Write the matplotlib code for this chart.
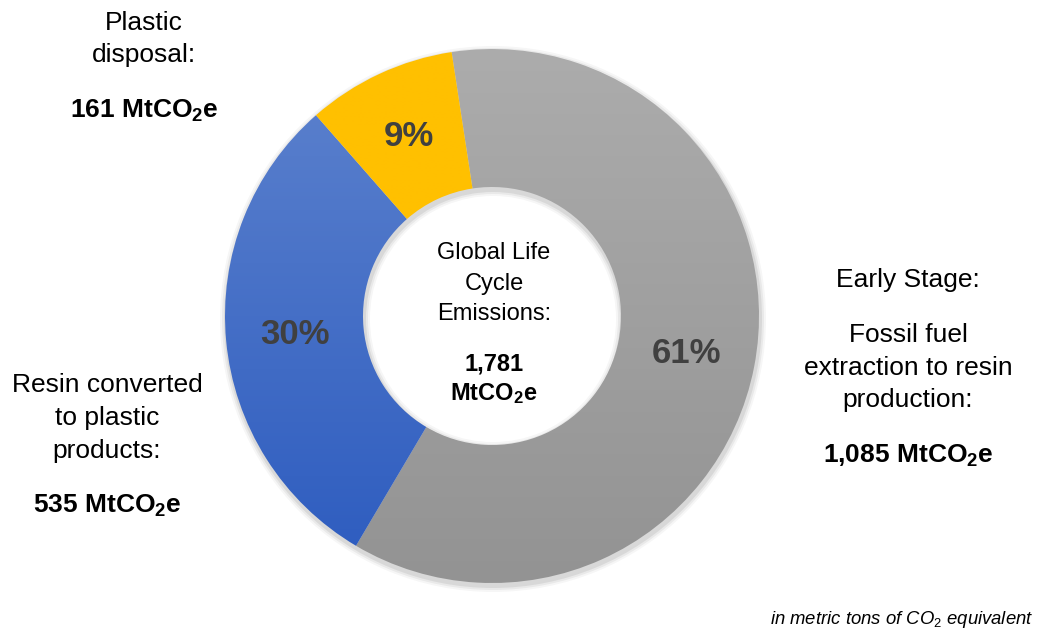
import matplotlib
matplotlib.use('Agg')
import matplotlib.pyplot as plt
import numpy as np
from matplotlib.colors import LinearSegmentedColormap
from matplotlib.patches import Wedge

plt.rcParams['font.family'] = ['Liberation Sans', 'DejaVu Sans']
plt.rcParams['mathtext.fontset'] = 'custom'
plt.rcParams['mathtext.rm'] = 'Liberation Sans'
plt.rcParams['mathtext.it'] = 'Liberation Sans:italic'
plt.rcParams['mathtext.bf'] = 'Liberation Sans:bold'

# ---- data ----
stages = ['Early Stage', 'Resin converted to plastic products', 'Plastic disposal']
emissions = [1085, 535, 161]          # MtCO2e
total_emissions = 1781
value_labels = ['1,085 MtCO$_\\mathbf{2}$e', '535 MtCO$_\\mathbf{2}$e', '161 MtCO$_\\mathbf{2}$e']

W, H = 1038, 630
fig = plt.figure(figsize=(W / 100, H / 100), dpi=100)
ax = fig.add_axes([0, 0, 1, 1])

def Y(y):
    return H - y

cx, cy = 492, Y(316)
R_out, R_in = 267, 129
width = R_out - R_in

# soft shadow
for dr, a in [(6, 0.035), (4, 0.05), (2, 0.07)]:
    ax.add_patch(Wedge((cx + 1, cy - 3), R_out + dr, 0, 360, width=width + 2 * dr,
                       facecolor='#000000', alpha=a, edgecolor='none', zorder=1))

wedges, texts, autotexts = ax.pie(
    emissions, radius=R_out, center=(cx, cy), startangle=98.7, counterclock=False,
    wedgeprops=dict(width=width, edgecolor='none', linewidth=0),
    autopct='%.0f%%', pctdistance=(R_out + R_in) / 2 / R_out,
    textprops=dict(fontsize=25, fontweight='bold', color='#404040'),
    frame=False)

grads = [('#ACACAC', '#939393'), ('#5E83CE', '#2C5BBF'), ('#FFC000', '#FFC000')]
for w, (top, bot) in zip(wedges, grads):
    w.set_facecolor('none')
    cmap = LinearSegmentedColormap.from_list('g', [bot, top])
    grad = np.linspace(0, 1, 256).reshape(-1, 1)
    im = ax.imshow(grad, cmap=cmap, extent=[cx - R_out, cx + R_out, cy - R_out, cy + R_out],
                   origin='lower', aspect='auto', zorder=2, interpolation='bilinear')
    im.set_clip_path(w)
for t in autotexts:
    t.set_zorder(5)

ax.set_xlim(0, W)
ax.set_ylim(0, H)
ax.set_aspect('auto')
ax.axis('off')

fs = 19
def lines(x, items):
    for y, s, bold in items:
        ax.text(x, Y(y), s, ha='center', va='baseline', fontsize=fs,
                fontweight='bold' if bold else 'normal', color='black', zorder=6)

lines(144, [(30, 'Plastic', False), (62, 'disposal:', False), (118, value_labels[2], True)])
lines(107, [(392, 'Resin converted', False), (425, 'to plastic', False),
            (458, 'products:', False), (513, value_labels[1], True)])
lines(908, [(287, 'Early Stage:', False), (342, 'Fossil fuel', False),
            (375, 'extraction to resin', False), (407, 'production:', False),
            (463, value_labels[0], True)])

for y, s, bold in [(259, 'Global Life', False), (290, 'Cycle', False), (320, 'Emissions:', False),
                   (370, f'{total_emissions:,}', True), (400, 'MtCO$_\\mathbf{2}$e', True)]:
    ax.text(494, Y(y), s, ha='center', va='baseline', fontsize=17,
            fontweight='bold' if bold else 'normal', color='black', zorder=6)

ax.text(1033, Y(624), 'in metric tons of CO$_\\mathit{2}$ equivalent', ha='right', va='baseline',
        fontsize=13.3, style='italic', color='black')

fig.savefig('out.png', dpi=100)
